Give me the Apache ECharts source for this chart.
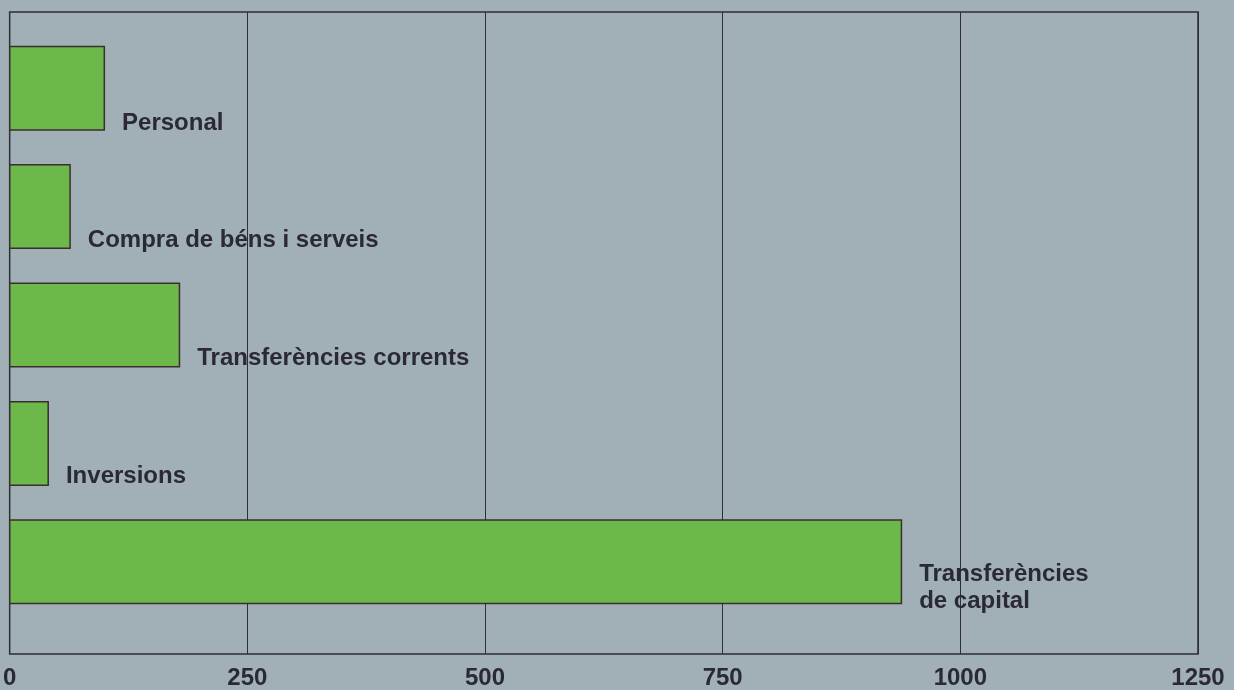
<!DOCTYPE html>
<html>
<head>
<meta charset="utf-8">
<script src="https://cdn.jsdelivr.net/npm/echarts@6/dist/echarts.min.js"></script>
<style>
  html, body { margin: 0; padding: 0; background: #a0b0b6; }
  #chart { width: 1234px; height: 690px; }
</style>
</head>
<body>
<div id="chart"></div>
<script>
// partides de despesa (milions)
const categories = ['Personal', 'Compra de béns i serveis', 'Transferències corrents', 'Inversions', 'Transferències\nde capital'];
const values = [101, 65, 180, 42, 939];
const tickLabels = [0, 250, 500, 750, 1000, 1250];

const chart = echarts.init(document.getElementById('chart'));

const textColor = '#2b2933';
const labelOffsets = [[0, 35], [0, 34], [0, 33], [0, 33], [0, 26]];

const barData = values.map((v, i) => ({
    value: v,
    label: { offset: labelOffsets[i] }
}));

const option = {
    backgroundColor: '#a0b0b6',
    animation: false,
    grid: [
        {
            left: 9, right: 36, top: 12, bottom: 35,
            show: true,
            borderColor: '#2e2e34',
            borderWidth: 1.5,
            backgroundColor: 'transparent'
        },
        { left: 9, right: 36, top: 29, bottom: 69 }
    ],
    xAxis: [
        {
            gridIndex: 0,
            type: 'value',
            min: 0, max: 1250, interval: 250,
            axisLine: { show: false },
            axisTick: { show: false },
            splitLine: { show: true, lineStyle: { color: '#2e2e34', width: 1 } },
            axisLabel: {
                margin: 12,
                color: textColor,
                fontFamily: 'Liberation Sans',
                fontWeight: 'bold',
                fontSize: 24,
                formatter: v => tickLabels.indexOf(v) >= 0 ? String(v) : ''
            }
        },
        {
            gridIndex: 1,
            type: 'value',
            min: 0, max: 1250,
            show: false
        }
    ],
    yAxis: [
        { gridIndex: 0, type: 'value', show: false, splitLine: { show: false } },
        {
            gridIndex: 1,
            type: 'category',
            inverse: true,
            data: categories,
            show: false
        }
    ],
    series: [
        {
            type: 'bar',
            xAxisIndex: 1,
            yAxisIndex: 1,
            barWidth: 85,
            data: barData,
            itemStyle: {
                color: '#6db84a',
                borderColor: '#3a2e2e',
                borderWidth: 1.5
            },
            label: {
                show: true,
                position: 'right',
                distance: 17,
                formatter: '{b}',
                color: textColor,
                fontFamily: 'Liberation Sans',
                fontWeight: 'bold',
                fontSize: 24,
                lineHeight: 27,
                align: 'left'
            }
        }
    ]
};

chart.setOption(option);
</script>
</body>
</html>
